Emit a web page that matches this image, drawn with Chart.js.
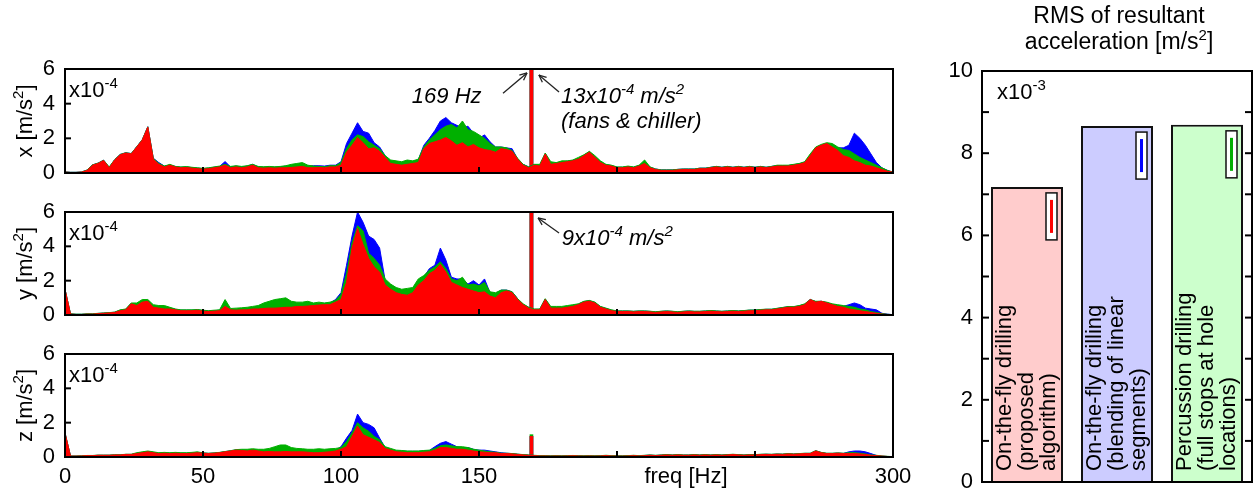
<!DOCTYPE html>
<html>
<head>
<meta charset="utf-8">
<script src="https://cdn.jsdelivr.net/npm/chart.js@4/dist/chart.umd.min.js"></script>
<style>
  html, body { margin: 0; padding: 0; background: #fff; }
  #page { position: relative; width: 1254px; height: 493px; overflow: hidden; background: #fff; }
  #page canvas { position: absolute; }
</style>
</head>
<body>
<div id="page">
  <canvas id="panelX" width="925" height="185" style="left:0;top:0;width:925px;height:185px"></canvas>
  <canvas id="panelY" width="925" height="140" style="left:0;top:185px;width:925px;height:140px"></canvas>
  <canvas id="panelZ" width="925" height="168" style="left:0;top:325px;width:925px;height:168px"></canvas>
  <canvas id="rmsBars" width="324" height="493" style="left:930px;top:0;width:324px;height:493px"></canvas>
</div>
<script>
// ---------------------------------------------------------------------------
// Frequency grid [Hz]: 2 Hz bins from 0 to 300 Hz.
const FREQ_HZ = [];
for (let f = 0; f <= 300; f += 2) FREQ_HZ.push(f);

const FREQ_TICKS = [0, 50, 100, 150, 200, 250, 300];
const FREQ_LABELLED = [0, 50, 100, 150, 300];
const ACC_TICKS = [0, 2, 4, 6];
const RMS_TICKS = [0, 1, 2, 3, 4, 5, 6, 7, 8, 9, 10];

// Narrow line of the fans & chiller, x10^-4 m/s^2 (proposed, percussion, blending)
const FAN_LINE_HZ = 169;
const X_FAN_LINE = [13.0, 13.0, 13.0];
const Y_FAN_LINE = [9.0, 9.0, 9.0];
const Z_FAN_LINE = [1.20, 1.30, 1.20];

// Broadband spectra, x10^-4 m/s^2 (rows of ten 2 Hz bins: 0-18, 20-38, ..., 280-298, then 300 Hz)
const X_PROPOSED = [
  0.05,0.03,0.03,0.05,0.15,0.45,0.55,0.72,0.30,0.75,
  1.05,1.15,1.10,1.50,1.90,2.65,0.80,0.50,0.35,0.45,
  0.35,0.30,0.32,0.28,0.25,0.22,0.25,0.30,0.35,0.45,
  0.30,0.35,0.30,0.35,0.45,0.30,0.28,0.30,0.28,0.30,
  0.30,0.32,0.35,0.38,0.30,0.30,0.32,0.30,0.35,0.35,
  0.45,1.20,1.60,2.05,1.75,1.40,1.45,1.25,0.90,0.55,
  0.50,0.45,0.50,0.55,0.60,1.40,1.70,1.80,1.90,2.05,
  1.85,1.60,1.75,1.50,1.65,1.45,1.35,1.30,1.20,1.40,
  1.35,1.25,0.80,0.45,0.30,0.45,0.40,1.10,0.50,0.55,
  0.60,0.65,0.70,0.80,1.00,1.20,0.90,0.60,0.45,0.40,
  0.30,0.30,0.35,0.30,0.40,0.55,0.30,0.20,0.15,0.15,
  0.15,0.18,0.20,0.20,0.20,0.25,0.25,0.30,0.35,0.30,
  0.35,0.30,0.35,0.30,0.35,0.30,0.35,0.30,0.35,0.40,
  0.40,0.40,0.45,0.50,0.60,1.00,1.45,1.60,1.70,1.50,
  1.30,1.00,0.90,0.70,0.60,0.45,0.40,0.30,0.20,0.10,
  0.05
];
const X_PERCUSSION = [
  0.06,0.04,0.04,0.06,0.17,0.47,0.57,0.74,0.35,0.77,
  1.07,1.17,1.12,1.52,1.92,2.67,0.85,0.55,0.40,0.50,
  0.38,0.35,0.37,0.33,0.30,0.27,0.30,0.35,0.40,0.50,
  0.38,0.42,0.38,0.42,0.50,0.38,0.36,0.38,0.36,0.38,
  0.42,0.50,0.55,0.60,0.45,0.40,0.38,0.36,0.42,0.42,
  0.60,1.40,1.90,2.20,2.10,1.80,1.60,1.40,1.00,0.75,
  0.70,0.65,0.75,0.70,0.80,1.50,1.90,2.20,2.50,2.70,
  2.80,2.60,3.00,2.50,2.40,2.20,2.00,1.70,1.50,1.50,
  1.45,1.30,0.85,0.50,0.35,0.50,0.50,1.15,0.65,0.60,
  0.70,0.70,0.75,0.90,1.05,1.25,1.00,0.70,0.50,0.45,
  0.35,0.35,0.40,0.35,0.45,0.75,0.35,0.23,0.18,0.18,
  0.18,0.21,0.23,0.23,0.23,0.28,0.28,0.33,0.38,0.33,
  0.38,0.33,0.38,0.33,0.38,0.33,0.38,0.33,0.38,0.45,
  0.45,0.45,0.50,0.55,0.65,1.10,1.50,1.65,1.75,1.70,
  1.50,1.35,1.30,1.10,0.90,0.75,0.60,0.45,0.30,0.15,
  0.05
];
const X_BLENDING = [
  0.06,0.04,0.04,0.06,0.17,0.47,0.57,0.74,0.32,0.77,
  1.07,1.17,1.12,1.52,1.92,2.67,0.85,0.60,0.40,0.45,
  0.38,0.33,0.35,0.31,0.28,0.25,0.28,0.33,0.38,0.66,
  0.35,0.40,0.35,0.40,0.50,0.35,0.33,0.35,0.33,0.35,
  0.40,0.40,0.42,0.45,0.40,0.42,0.42,0.40,0.45,0.45,
  0.65,1.70,2.30,2.90,2.40,2.30,1.75,1.50,1.00,0.65,
  0.60,0.60,0.70,0.65,0.75,1.60,2.00,2.45,3.00,3.20,
  2.90,2.75,2.60,2.70,2.30,2.00,2.20,1.80,1.50,1.50,
  1.45,1.40,0.80,0.50,0.35,0.48,0.43,1.12,0.53,0.58,
  0.63,0.68,0.73,0.83,1.03,1.22,0.93,0.63,0.48,0.43,
  0.33,0.33,0.38,0.33,0.43,0.58,0.33,0.23,0.18,0.18,
  0.18,0.21,0.23,0.23,0.23,0.28,0.28,0.33,0.38,0.33,
  0.38,0.33,0.38,0.33,0.38,0.33,0.38,0.33,0.38,0.43,
  0.43,0.43,0.48,0.53,0.63,1.00,1.45,1.60,1.70,1.60,
  1.45,1.45,1.60,2.30,2.00,1.60,1.10,0.60,0.30,0.15,
  0.05
];

const Y_PROPOSED = [
  1.50,0.05,0.03,0.03,0.05,0.05,0.08,0.10,0.12,0.15,
  0.25,0.30,0.65,0.55,0.75,0.80,0.45,0.40,0.35,0.35,
  0.30,0.25,0.25,0.25,0.28,0.22,0.20,0.22,0.25,0.50,
  0.30,0.28,0.30,0.30,0.35,0.35,0.38,0.40,0.40,0.42,
  0.45,0.45,0.50,0.50,0.52,0.55,0.58,0.60,0.60,0.75,
  0.90,1.90,3.90,5.05,4.10,3.30,2.80,2.50,1.75,1.50,
  1.30,1.20,1.15,1.30,1.75,2.00,2.40,2.60,2.95,2.50,
  1.90,1.75,1.60,1.50,1.40,1.30,1.35,1.10,1.00,1.30,
  1.40,1.30,0.90,0.60,0.40,0.30,0.30,0.90,0.40,0.40,
  0.40,0.45,0.50,0.60,0.75,0.80,0.70,0.45,0.35,0.25,
  0.20,0.20,0.20,0.18,0.20,0.20,0.18,0.15,0.18,0.20,
  0.18,0.15,0.18,0.20,0.18,0.18,0.20,0.22,0.20,0.18,
  0.20,0.22,0.20,0.22,0.25,0.25,0.28,0.30,0.30,0.35,
  0.40,0.45,0.45,0.50,0.60,0.90,0.75,0.80,0.70,0.60,
  0.50,0.45,0.35,0.30,0.25,0.20,0.15,0.10,0.05,0.03,
  0.02
];
const Y_PERCUSSION = [
  1.50,0.07,0.05,0.05,0.07,0.07,0.10,0.12,0.14,0.17,
  0.30,0.35,0.70,0.70,0.90,0.90,0.60,0.55,0.55,0.45,
  0.35,0.30,0.30,0.30,0.32,0.28,0.25,0.28,0.30,0.90,
  0.38,0.40,0.42,0.45,0.50,0.55,0.70,0.80,0.90,0.95,
  1.00,0.80,0.75,0.75,0.80,0.70,0.75,0.70,0.75,0.85,
  1.20,2.40,4.20,5.20,4.90,3.60,3.30,2.90,2.10,1.80,
  1.60,1.50,1.55,1.60,2.10,2.30,2.60,2.80,3.10,2.70,
  2.10,2.00,2.20,1.75,1.80,1.70,1.90,1.35,1.30,1.45,
  1.45,1.35,0.95,0.65,0.45,0.35,0.35,0.95,0.50,0.50,
  0.50,0.55,0.60,0.65,0.80,0.85,0.75,0.50,0.40,0.30,
  0.24,0.24,0.24,0.22,0.24,0.24,0.22,0.19,0.22,0.24,
  0.22,0.19,0.22,0.24,0.22,0.22,0.24,0.26,0.24,0.22,
  0.24,0.26,0.24,0.26,0.29,0.29,0.32,0.34,0.34,0.39,
  0.44,0.49,0.49,0.55,0.65,0.90,0.80,0.80,0.75,0.65,
  0.60,0.55,0.50,0.45,0.35,0.30,0.20,0.15,0.08,0.04,
  0.02
];
const Y_BLENDING = [
  1.50,0.06,0.04,0.04,0.06,0.06,0.09,0.11,0.13,0.16,
  0.28,0.33,0.68,0.60,0.80,0.85,0.50,0.45,0.40,0.40,
  0.33,0.28,0.28,0.28,0.30,0.25,0.23,0.25,0.28,0.60,
  0.33,0.31,0.33,0.33,0.38,0.38,0.41,0.43,0.43,0.45,
  0.50,0.50,0.55,0.55,0.58,0.60,0.65,0.68,0.70,0.90,
  1.30,2.90,4.60,6.00,5.40,4.60,4.40,3.90,2.00,1.70,
  1.50,1.40,1.45,1.50,2.00,2.20,2.70,2.90,3.90,3.20,
  2.20,2.10,2.10,1.80,2.00,1.75,2.10,1.30,1.25,1.45,
  1.45,1.35,0.95,0.60,0.45,0.33,0.33,0.93,0.43,0.43,
  0.43,0.48,0.53,0.63,0.78,0.83,0.73,0.48,0.38,0.28,
  0.23,0.23,0.23,0.21,0.23,0.23,0.21,0.18,0.21,0.23,
  0.21,0.18,0.21,0.23,0.21,0.21,0.23,0.25,0.23,0.21,
  0.23,0.25,0.23,0.25,0.28,0.28,0.31,0.33,0.33,0.38,
  0.43,0.48,0.48,0.53,0.63,0.90,0.78,0.80,0.72,0.62,
  0.55,0.50,0.60,0.70,0.60,0.40,0.35,0.30,0.10,0.05,
  0.02
];

const Z_PROPOSED = [
  1.40,0.05,0.05,0.06,0.08,0.08,0.10,0.10,0.10,0.12,
  0.12,0.15,0.15,0.20,0.25,0.30,0.25,0.20,0.22,0.20,
  0.22,0.20,0.20,0.22,0.25,0.22,0.20,0.22,0.25,0.30,
  0.35,0.40,0.38,0.35,0.40,0.35,0.30,0.32,0.30,0.30,
  0.32,0.30,0.30,0.30,0.28,0.25,0.25,0.28,0.30,0.35,
  0.45,0.60,1.20,1.80,1.30,1.15,1.00,0.85,0.50,0.40,
  0.30,0.28,0.25,0.25,0.25,0.28,0.30,0.40,0.55,0.55,
  0.50,0.45,0.45,0.40,0.35,0.30,0.28,0.25,0.25,0.20,
  0.20,0.18,0.15,0.12,0.10,0.08,0.06,0.06,0.05,0.06,
  0.05,0.06,0.07,0.06,0.05,0.06,0.05,0.06,0.08,0.06,
  0.05,0.05,0.06,0.08,0.06,0.08,0.10,0.08,0.10,0.12,
  0.10,0.12,0.10,0.10,0.12,0.10,0.12,0.10,0.12,0.10,
  0.12,0.14,0.12,0.10,0.12,0.12,0.14,0.15,0.14,0.16,
  0.15,0.18,0.16,0.18,0.20,0.20,0.35,0.25,0.20,0.20,
  0.22,0.20,0.20,0.20,0.18,0.15,0.10,0.08,0.05,0.03,
  0.02
];
const Z_PERCUSSION = [
  1.40,0.06,0.06,0.07,0.09,0.09,0.11,0.11,0.11,0.13,
  0.13,0.16,0.16,0.25,0.30,0.35,0.30,0.25,0.27,0.25,
  0.27,0.25,0.25,0.27,0.30,0.24,0.22,0.24,0.27,0.32,
  0.37,0.43,0.45,0.45,0.48,0.45,0.45,0.50,0.60,0.70,
  0.70,0.55,0.50,0.48,0.45,0.45,0.48,0.45,0.48,0.50,
  0.55,0.90,1.40,2.00,1.70,1.50,1.20,1.00,0.60,0.50,
  0.40,0.38,0.35,0.35,0.35,0.38,0.40,0.50,0.65,0.70,
  0.65,0.60,0.60,0.55,0.45,0.40,0.35,0.30,0.28,0.22,
  0.22,0.20,0.17,0.14,0.12,0.10,0.08,0.08,0.07,0.08,
  0.07,0.08,0.09,0.08,0.07,0.08,0.07,0.08,0.10,0.08,
  0.07,0.07,0.08,0.10,0.08,0.10,0.12,0.10,0.12,0.14,
  0.12,0.14,0.12,0.12,0.14,0.12,0.14,0.12,0.14,0.12,
  0.14,0.16,0.14,0.12,0.14,0.14,0.16,0.17,0.16,0.18,
  0.17,0.20,0.18,0.20,0.22,0.22,0.37,0.27,0.22,0.22,
  0.24,0.22,0.25,0.25,0.22,0.18,0.12,0.10,0.06,0.04,
  0.02
];
const Z_BLENDING = [
  1.40,0.05,0.05,0.06,0.08,0.08,0.10,0.10,0.10,0.12,
  0.12,0.15,0.15,0.22,0.27,0.32,0.27,0.22,0.24,0.22,
  0.24,0.22,0.22,0.24,0.27,0.23,0.21,0.23,0.26,0.31,
  0.36,0.41,0.40,0.38,0.42,0.38,0.33,0.35,0.33,0.33,
  0.35,0.33,0.33,0.33,0.31,0.28,0.28,0.31,0.33,0.40,
  0.60,1.10,1.55,2.50,2.00,1.90,1.70,1.10,0.55,0.45,
  0.35,0.35,0.33,0.33,0.33,0.35,0.38,0.60,0.80,0.90,
  0.75,0.60,0.55,0.55,0.45,0.40,0.40,0.35,0.30,0.25,
  0.22,0.20,0.16,0.13,0.11,0.09,0.07,0.07,0.06,0.07,
  0.06,0.07,0.08,0.07,0.06,0.07,0.06,0.07,0.09,0.07,
  0.06,0.06,0.07,0.09,0.07,0.09,0.11,0.09,0.11,0.13,
  0.11,0.13,0.11,0.11,0.13,0.11,0.13,0.11,0.13,0.11,
  0.13,0.15,0.13,0.11,0.13,0.13,0.15,0.16,0.15,0.17,
  0.16,0.19,0.17,0.19,0.21,0.21,0.36,0.26,0.21,0.21,
  0.23,0.21,0.30,0.35,0.35,0.30,0.20,0.09,0.05,0.03,
  0.02
];

// RMS of resultant acceleration, x10^-3 m/s^2
const METHODS = [
  ['On-the-fly drilling', '(proposed', 'algorithm)'],
  ['On-the-fly drilling', '(blending of linear', 'segments)'],
  ['Percussion drilling', '(full stops at hole', 'locations)']
];
const RMS_VALUES = [7.18, 8.66, 8.69];

// ---------------------------------------------------------------------------
const FAMILY = '"Liberation Sans", Arial, Helvetica, sans-serif';
const RED = '#ff0000', BLUE = '#0000ff', GREEN = '#00b000';
const TXT = 22;

function fontStr(size, italic) { return (italic ? 'italic ' : '') + size + 'px ' + FAMILY; }
function supSize(size) { return Math.round(size * 0.66); }
function richWidth(ctx, parts, size, italic) {
  let w = 0;
  for (const [t, sup] of parts) { ctx.font = fontStr(sup ? supSize(size) : size, italic); w += ctx.measureText(t).width; }
  return w;
}
// Text with superscript pieces, drawn on its alphabetic baseline.
function drawRich(ctx, parts, x, y, size, align, italic) {
  const w = richWidth(ctx, parts, size, italic);
  let cx = align === 'center' ? x - w / 2 : align === 'right' ? x - w : x;
  ctx.textAlign = 'left';
  ctx.textBaseline = 'alphabetic';
  for (const [t, sup] of parts) {
    ctx.font = fontStr(sup ? supSize(size) : size, italic);
    ctx.fillText(t, cx, sup ? y - size * 0.4 : y);
    cx += ctx.measureText(t).width;
  }
}
function seg(ctx, x1, y1, x2, y2) { ctx.beginPath(); ctx.moveTo(x1, y1); ctx.lineTo(x2, y2); ctx.stroke(); }
function arrow(ctx, x1, y1, x2, y2) {
  seg(ctx, x1, y1, x2, y2);
  const a = Math.atan2(y2 - y1, x2 - x1), L = 8, s = 0.42;
  seg(ctx, x2, y2, x2 - L * Math.cos(a - s), y2 - L * Math.sin(a - s));
  seg(ctx, x2, y2, x2 - L * Math.cos(a + s), y2 - L * Math.sin(a + s));
}
// Keep the plot frame where the layout padding puts it: tick labels may overhang.
function noOverhang(s) { s.paddingLeft = 0; s.paddingRight = 0; s.paddingTop = 0; s.paddingBottom = 0; }

// Frame, inward ticks, exponent tag, axis name and callouts of one spectrum panel.
const panelPlugin = {
  id: 'panel',
  afterDraw(chart, args, o) {
    const { ctx, chartArea: a, scales } = chart;
    ctx.save();
    ctx.strokeStyle = '#000';
    ctx.fillStyle = '#000';
    ctx.lineWidth = 2;
    ACC_TICKS.forEach(v => { const y = scales.y.getPixelForValue(v); seg(ctx, a.left, y, a.left + 6, y); });
    FREQ_TICKS.forEach(v => { const x = scales.x.getPixelForValue(v); seg(ctx, x, a.bottom, x, a.bottom - 6); });
    ctx.strokeRect(a.left, a.top, a.right - a.left, a.bottom - a.top);

    drawRich(ctx, [['x10', 0], ['-4', 1]], a.left + 4, a.top + 28, TXT, 'left', false);

    ctx.save();
    ctx.translate(32, (a.top + a.bottom) / 2);
    ctx.rotate(-Math.PI / 2);
    drawRich(ctx, [[o.axisName + ' [m/s', 0], ['2', 1], [']', 0]], 0, 0, TXT, 'center', false);
    ctx.restore();

    if (o.freqName) {
      ctx.font = fontStr(TXT, false);
      ctx.textAlign = 'center';
      ctx.textBaseline = 'middle';
      ctx.fillText(o.freqName, scales.x.getPixelForValue(225), a.bottom + 20);
    }

    ctx.strokeStyle = '#222';
    ctx.lineWidth = 1.3;
    (o.callouts || []).forEach(c => {
      const px = f => scales.x.getPixelForValue(f), py = v => scales.y.getPixelForValue(v);
      if (c.arrow) arrow(ctx, px(c.from[0]), py(c.from[1]), px(c.to[0]), py(c.to[1]));
      else drawRich(ctx, c.parts, px(c.at[0]), py(c.at[1]), TXT, c.align, true);
    });
    ctx.restore();
  }
};

function series(values, color) {
  return {
    data: FREQ_HZ.map((f, i) => ({ x: f, y: values[i] })),
    borderColor: color, backgroundColor: color, borderWidth: 1,
    fill: 'origin', pointRadius: 0, tension: 0, clip: 0
  };
}
function fanLine(value, color) {
  return {
    type: 'bar', data: [{ x: FAN_LINE_HZ, y: value }],
    backgroundColor: color, borderWidth: 0, barThickness: 3, grouped: false, clip: 0
  };
}

function spectrum(id, axisName, red, green, blue, line, layout, extra) {
  return new Chart(document.getElementById(id), {
    type: 'line',
    data: { datasets: [
      series(red, RED), series(green, GREEN), series(blue, BLUE),
      fanLine(line[0], RED), fanLine(line[1], GREEN), fanLine(line[2], BLUE)
    ] },
    options: {
      responsive: false, animation: false, events: [],
      layout: { padding: layout },
      plugins: {
        legend: { display: false }, tooltip: { enabled: false },
        panel: Object.assign({ axisName }, extra)
      },
      scales: {
        x: {
          type: 'linear', min: 0, max: 300, offset: false,
          grid: { display: false, drawTicks: false, offset: false }, border: { display: false },
          afterBuildTicks: s => { s.ticks = FREQ_TICKS.map(v => ({ value: v })); },
          ticks: {
            display: !!extra.freqName, autoSkip: false, maxRotation: 0, padding: 7,
            color: '#000', font: { family: FAMILY, size: TXT },
            callback: v => FREQ_LABELLED.includes(v) ? String(v) : ''
          },
          afterFit: s => { s.height = extra.freqName ? 36 : 0; noOverhang(s); }
        },
        y: {
          min: 0, max: 6,
          grid: { display: false, drawTicks: false }, border: { display: false },
          afterBuildTicks: s => { s.ticks = ACC_TICKS.map(v => ({ value: v })); },
          ticks: { padding: 10, color: '#000', font: { family: FAMILY, size: TXT } },
          afterFit: s => { s.width = 65; noOverhang(s); }
        }
      }
    },
    plugins: [panelPlugin]
  });
}

spectrum('panelX', 'x', X_PROPOSED, X_PERCUSSION, X_BLENDING, X_FAN_LINE,
  { left: 0, right: 32, top: 69, bottom: 12 },
  { callouts: [
      { at: [138.3, 4.04], align: 'center', parts: [['169 Hz', 0]] },
      { arrow: true, from: [158.7, 4.6], to: [167.4, 5.77] },
      { arrow: true, from: [179.0, 4.67], to: [171.7, 5.65] },
      { at: [179.7, 4.04], align: 'left', parts: [['13x10', 0], ['-4', 1], [' m/s', 0], ['2', 1]] },
      { at: [179.7, 2.6], align: 'left', parts: [['(fans & chiller)', 0]] }
  ] });

spectrum('panelY', 'y', Y_PROPOSED, Y_PERCUSSION, Y_BLENDING, Y_FAN_LINE,
  { left: 0, right: 32, top: 27, bottom: 10 },
  { callouts: [
      { arrow: true, from: [179.0, 4.78], to: [171.4, 5.65] },
      { at: [180.0, 4.08], align: 'left', parts: [['9x10', 0], ['-4', 1], [' m/s', 0], ['2', 1]] }
  ] });

spectrum('panelZ', 'z', Z_PROPOSED, Z_PERCUSSION, Z_BLENDING, Z_FAN_LINE,
  { left: 0, right: 32, top: 29, bottom: 0 },
  { freqName: 'freq [Hz]' });

// ---------------------------------------------------------------------------
const SWATCH = [RED, BLUE, GREEN];
const barPlugin = {
  id: 'rmsDecor',
  afterDraw(chart) {
    const { ctx, chartArea: a, scales } = chart;
    ctx.save();
    ctx.fillStyle = '#000';
    ctx.strokeStyle = '#000';

    // title
    drawRich(ctx, [['RMS of resultant', 0]], 189, 23, 23, 'center', false);
    drawRich(ctx, [['acceleration [m/s', 0], ['2', 1], [']', 0]], 189, 49, 23, 'center', false);

    const bars = chart.getDatasetMeta(0).data;
    bars.forEach((b, i) => {
      const right = b.x + b.width / 2;
      // small legend swatch in the bar's top-right corner
      const sw = 11, sh = 47, sx = right - 6 - sw, sy = b.y + 6;
      ctx.fillStyle = '#fff';
      ctx.fillRect(sx, sy, sw, sh);
      ctx.lineWidth = 1.5;
      ctx.strokeStyle = '#111';
      ctx.strokeRect(sx, sy, sw, sh);
      ctx.strokeStyle = SWATCH[i];
      ctx.lineWidth = 3;
      seg(ctx, sx + sw / 2, sy + 7, sx + sw / 2, sy + sh - 7);

      // rotated method name
      ctx.save();
      ctx.translate(b.x, a.bottom - 11);
      ctx.rotate(-Math.PI / 2);
      ctx.fillStyle = '#000';
      ctx.font = fontStr(22, false);
      ctx.textAlign = 'left';
      ctx.textBaseline = 'middle';
      METHODS[i].forEach((line, k) => ctx.fillText(line, 0, (k - 1) * 22));
      ctx.restore();
    });

    ctx.strokeStyle = '#000';
    ctx.lineWidth = 2;
    RMS_TICKS.forEach(v => {
      const y = scales.y.getPixelForValue(v);
      seg(ctx, a.left, y, a.left + 7, y);
      seg(ctx, a.right, y, a.right - 7, y);
    });
    ctx.strokeRect(a.left, a.top, a.right - a.left, a.bottom - a.top);
    ctx.fillStyle = '#000';
    drawRich(ctx, [['x10', 0], ['-3', 1]], a.left + 15, a.top + 28, TXT, 'left', false);
    ctx.restore();
  }
};

new Chart(document.getElementById('rmsBars'), {
  type: 'bar',
  data: {
    labels: METHODS.map(m => m.join(' ')),
    datasets: [{
      data: RMS_VALUES,
      backgroundColor: ['#ffcccc', '#ccccff', '#ccffcc'],
      borderColor: '#111', borderWidth: 2,
      barPercentage: 0.8, categoryPercentage: 1.0
    }]
  },
  options: {
    responsive: false, animation: false, events: [],
    layout: { padding: { left: 0, right: 2, top: 71, bottom: 11 } },
    plugins: { legend: { display: false }, tooltip: { enabled: false } },
    scales: {
      x: { display: false },
      y: {
        min: 0, max: 10,
        grid: { display: false, drawTicks: false }, border: { display: false },
        afterBuildTicks: s => { s.ticks = RMS_TICKS.map(v => ({ value: v })); },
        ticks: {
          padding: 9, color: '#000', font: { family: FAMILY, size: TXT },
          callback: v => (v % 2 === 0 ? String(v) : '')
        },
        afterFit: s => { s.width = 52; noOverhang(s); }
      }
    }
  },
  plugins: [barPlugin]
});
</script>
</body>
</html>
